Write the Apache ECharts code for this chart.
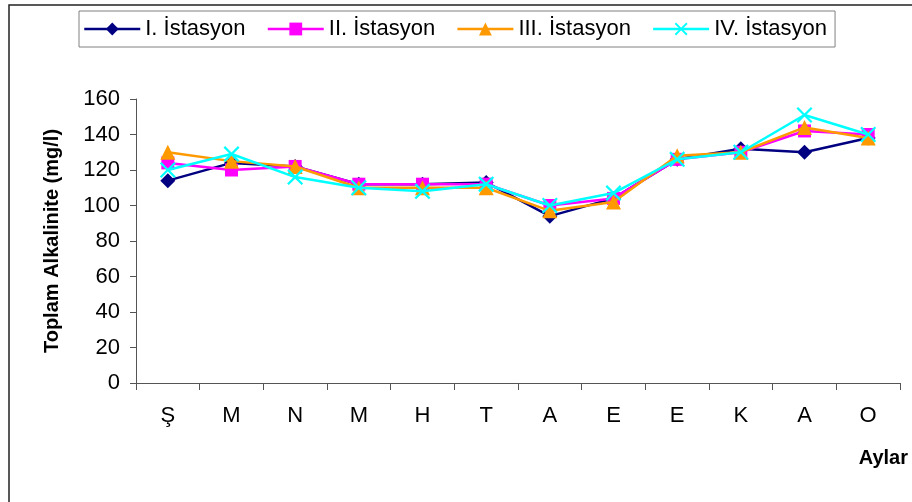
<!DOCTYPE html>
<html>
<head>
<meta charset="utf-8">
<script src="https://cdn.jsdelivr.net/npm/echarts@6/dist/echarts.min.js"></script>
<style>
  html, body { margin: 0; padding: 0; background: #fff; }
  #chart { width: 912px; height: 502px; }
</style>
</head>
<body>
<div id="chart"></div>
<script>
// Monthly total alkalinity at four stations
const months = ['Ş', 'M', 'N', 'M', 'H', 'T', 'A', 'E', 'E', 'K', 'A', 'O'];
const station1 = [114, 124, 122, 112, 112, 113, 94, 104, 126, 132, 130, 138];
const station2 = [124, 120, 122, 112, 112, 112, 100, 104, 126, 130, 142, 140];
const station3 = [130, 125, 122, 110, 110, 110, 97, 102, 128, 130, 144, 138];
const station4 = [120, 129, 116, 110, 108, 112, 100, 107, 126, 130, 151, 140];
const stationNames = ['I. İstasyon', 'II. İstasyon', 'III. İstasyon', 'IV. İstasyon'];
const yTicks = { min: 0, max: 160, interval: 20 };

const FONT = '"Liberation Sans", Arial, sans-serif';
const crossPath = 'path://M0,1L1,0L5,4L9,0L10,1L6,5L10,9L9,10L5,6L1,10L0,9L4,5Z';

const styles = [
  { color: '#000080', symbol: 'diamond', size: 15 },
  { color: '#FF00FF', symbol: 'rect', size: 13 },
  { color: '#FF9900', symbol: 'triangle', size: 15 },
  { color: '#00FFFF', symbol: crossPath, size: 16 }
];
const values = [station1, station2, station3, station4];

const series = values.map((data, i) => ({
  name: stationNames[i],
  type: 'line',
  data: data,
  symbol: styles[i].symbol,
  symbolSize: styles[i].size,
  showAllSymbol: true,
  lineStyle: { color: styles[i].color, width: 2.5 },
  itemStyle: { color: styles[i].color },
  emphasis: { disabled: true },
  animation: false,
  z: 2 + i
}));

const chart = echarts.init(document.getElementById('chart'));
chart.setOption({
  animation: false,
  backgroundColor: '#fff',
  textStyle: { fontFamily: FONT },
  graphic: [
    {
      type: 'rect',
      shape: { x: 9, y: 5, width: 1000, height: 1000 },
      style: { fill: 'none', stroke: '#222', lineWidth: 1.5 },
      z: -1
    },
    {
      type: 'text',
      right: 4,
      top: 448,
      style: { text: 'Aylar', font: 'bold 20px ' + FONT, fill: '#000' }
    }
  ],
  legend: {
    left: 79,
    top: 11,
    padding: [7, 8, 7, 4],
    itemGap: 21,
    itemWidth: 56,
    itemHeight: 16,
    borderColor: '#808080',
    borderWidth: 1,
    lineStyle: { width: 2.5 },
    textStyle: { fontSize: 22, color: '#000', fontFamily: FONT },
    data: stationNames
  },
  grid: { left: 136, right: 12, top: 99, bottom: 119, containLabel: false },
  xAxis: {
    type: 'category',
    data: months,
    boundaryGap: true,
    axisLine: { lineStyle: { color: '#555', width: 1 } },
    axisTick: { show: true, length: 7, lineStyle: { color: '#555' } },
    axisLabel: { fontSize: 22, color: '#000', margin: 22, fontFamily: FONT },
    splitLine: { show: false }
  },
  yAxis: {
    type: 'value',
    min: yTicks.min,
    max: yTicks.max,
    interval: yTicks.interval,
    name: 'Toplam Alkalinite (mg/l)',
    nameLocation: 'middle',
    nameGap: 74,
    nameTextStyle: { fontSize: 20, fontWeight: 'bold', color: '#000', fontFamily: FONT },
    axisLine: { show: true, lineStyle: { color: '#555', width: 1 } },
    axisTick: { show: true, length: 6, lineStyle: { color: '#555' } },
    axisLabel: { fontSize: 22, color: '#000', margin: 16, fontFamily: FONT },
    splitLine: { show: false }
  },
  series: series
});
</script>
</body>
</html>
